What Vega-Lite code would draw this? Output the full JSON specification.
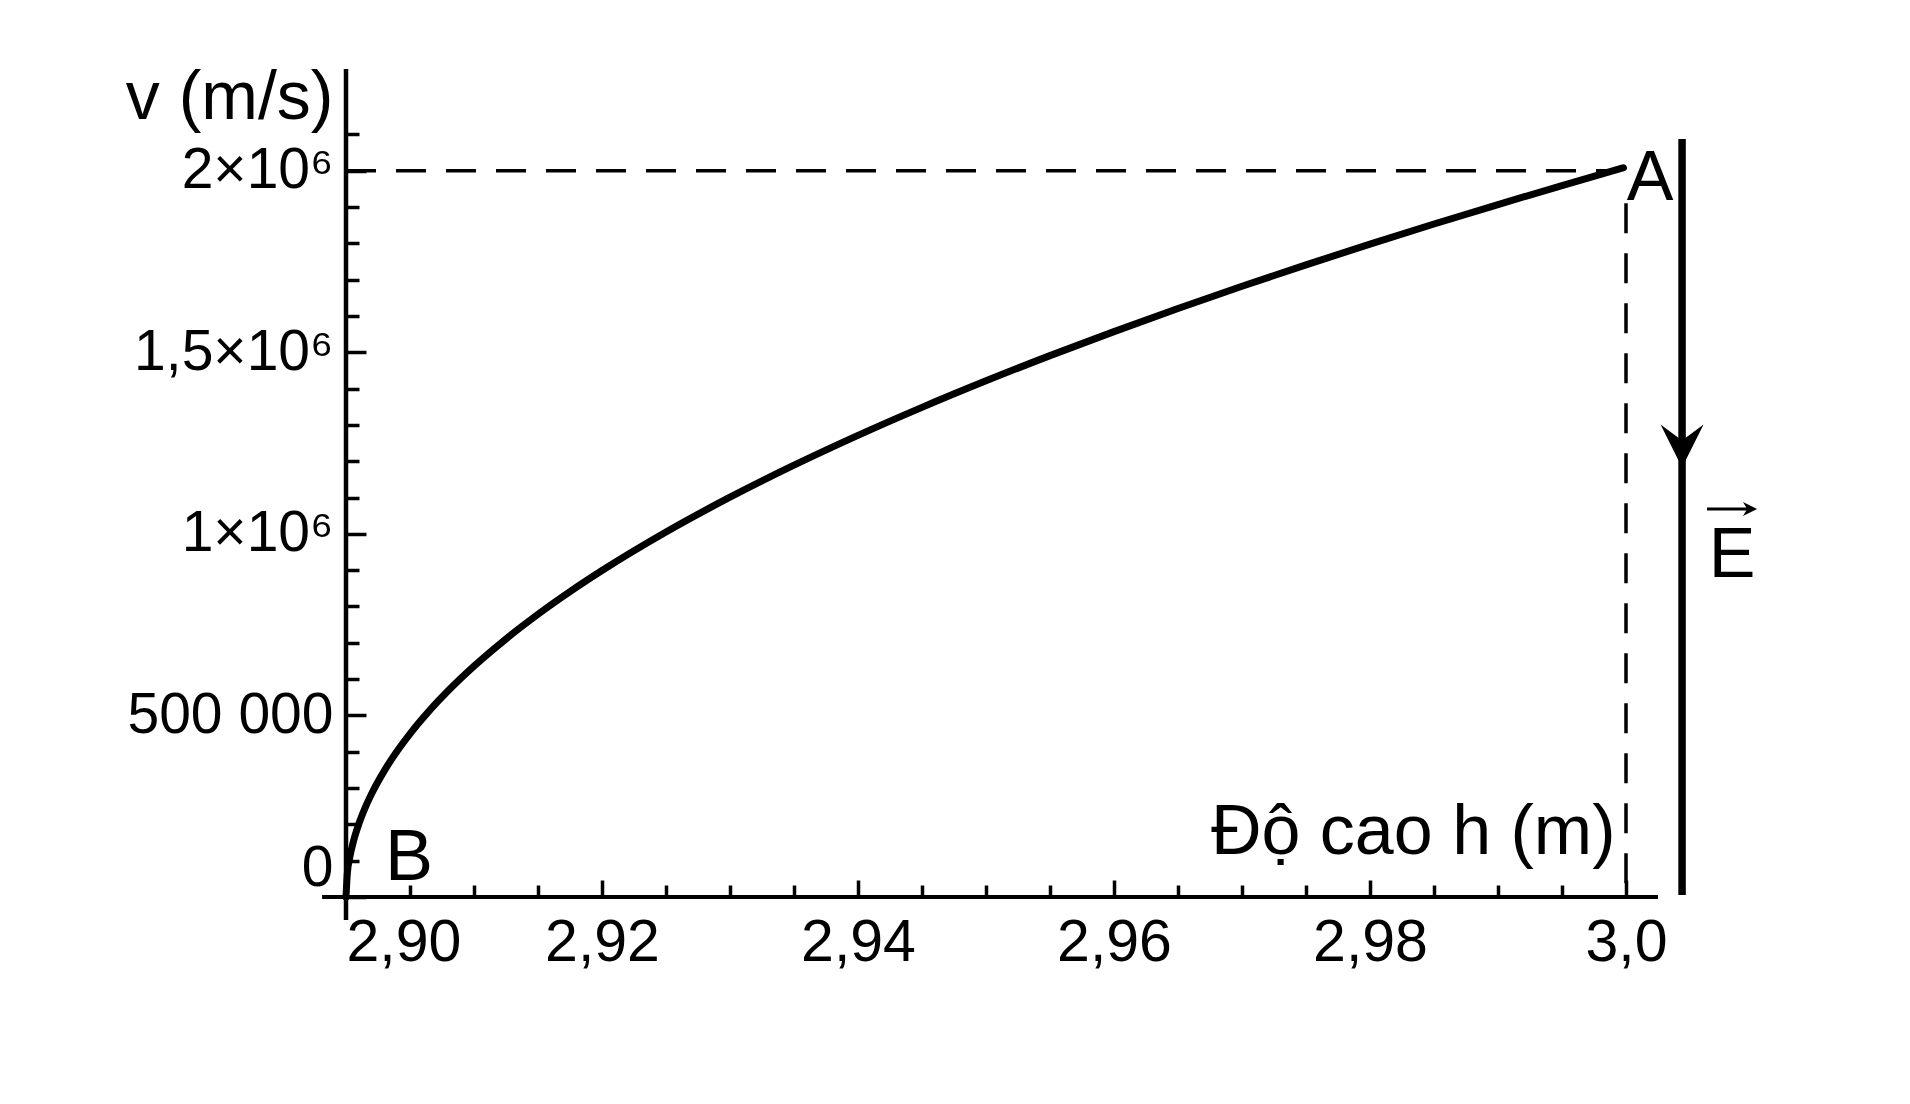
{
  "$schema": "https://vega.github.io/schema/vega-lite/v6.json",
  "autosize": {"type": "none"},
  "padding": {"left": 346, "top": 69, "right": 284, "bottom": 207},
  "width": 1280,
  "height": 828,
  "background": "white",
  "config": {
    "view": {"stroke": null},
    "font": "Liberation Sans",
    "axis": {
      "domain": false,
      "grid": false,
      "labelFont": "Liberation Sans",
      "labelColor": "black",
      "labelLimit": 500,
      "tickColor": "black",
      "tickWidth": 3.5,
      "titleFont": "Liberation Sans",
      "titleFontWeight": "normal",
      "titleColor": "black",
      "labelOverlap": false,
      "labelBound": false
    }
  },
  "encoding": {
    "x": {
      "field": "h",
      "type": "quantitative",
      "scale": {"domain": [2.9, 3.0], "nice": false, "zero": false},
      "axis": {
        "orient": "bottom",
        "values": [2.9, 2.905, 2.91, 2.915, 2.92, 2.925, 2.93, 2.935, 2.94, 2.945, 2.95, 2.955, 2.96, 2.965, 2.97, 2.975, 2.98, 2.985, 2.99, 2.995, 3.0],
        "labelExpr": "abs(datum.value*50 - round(datum.value*50)) < 0.001 ? (datum.value > 2.999 ? '3,0' : replace(format(datum.value, '.2f'), '.', ',')) : ''",
        "tickSize": {"condition": {"test": "abs(datum.value*50 - round(datum.value*50)) < 0.001", "value": -17}, "value": -12},
        "labelAlign": {"condition": {"test": "datum.value < 2.901", "value": "left"}, "value": "center"},
        "labelBaseline": "top",
        "labelFontSize": 59,
        "labelPadding": 33,
        "title": "Độ cao h (m)",
        "titleFontSize": 70,
        "titleAlign": "right",
        "titleBaseline": "alphabetic",
        "titleAnchor": "start",
        "titleX": 1269,
        "titleY": -44
      }
    },
    "y": {
      "field": "v",
      "type": "quantitative",
      "scale": {"domain": [0, 2280000], "nice": false, "zero": false},
      "axis": {
        "orient": "left",
        "values": [0, 100000, 200000, 300000, 400000, 500000, 600000, 700000, 800000, 900000, 1000000, 1100000, 1200000, 1300000, 1400000, 1500000, 1600000, 1700000, 1800000, 1900000, 2000000, 2100000],
        "labelExpr": "datum.value == 0 ? '0' : datum.value == 500000 ? '500 000' : datum.value == 1000000 ? '1×10⁶' : datum.value == 1500000 ? '1,5×10⁶' : datum.value == 2000000 ? '2×10⁶' : ''",
        "tickSize": {"condition": {"test": "datum.value % 500000 == 0", "value": -20}, "value": -13},
        "labelBaseline": {"condition": {"test": "datum.value == 0", "value": "bottom"}, "value": "middle"},
        "labelAlign": "right",
        "labelFontSize": 57,
        "labelPadding": 33,
        "title": "v (m/s)",
        "titleFontSize": 68,
        "titleAngle": 0,
        "titleAlign": "right",
        "titleBaseline": "alphabetic",
        "titleAnchor": "start",
        "titleX": -13,
        "titleY": 49
      }
    }
  },
  "layer": [
    {
      "data": {"values": [
        {"h": 2.89813, "h2": 3.0025, "v": 0}
      ]},
      "mark": {"type": "rule", "color": "black", "strokeWidth": 4},
      "encoding": {"x2": {"field": "h2"}}
    },
    {
      "data": {"values": [
        {"h": 2.9, "v": -63300, "v2": 2280000}
      ]},
      "mark": {"type": "rule", "color": "black", "strokeWidth": 4.5},
      "encoding": {"y2": {"field": "v2"}}
    },
    {
      "data": {"values": [
        {"h": 2.9, "h2": 2.9985, "v": 2000000}
      ]},
      "mark": {"type": "rule", "color": "black", "strokeWidth": 3.5, "strokeDash": [30, 20]},
      "encoding": {"x2": {"field": "h2"}}
    },
    {
      "data": {"values": [
        {"h": 3.0, "v": 1910000, "v2": 0}
      ]},
      "mark": {"type": "rule", "color": "black", "strokeWidth": 3.5, "strokeDash": [30, 20]},
      "encoding": {"y2": {"field": "v2"}}
    },
    {
      "data": {"values": [
        {"h": 2.9, "v": 0},
        {"h": 2.9001, "v": 63600},
        {"h": 2.9003, "v": 110100},
        {"h": 2.9006, "v": 155700},
        {"h": 2.901, "v": 201000},
        {"h": 2.9015, "v": 246200},
        {"h": 2.902, "v": 284300},
        {"h": 2.903, "v": 348100},
        {"h": 2.904, "v": 402000},
        {"h": 2.905, "v": 449400},
        {"h": 2.9065, "v": 512500},
        {"h": 2.908, "v": 568500},
        {"h": 2.91, "v": 635600},
        {"h": 2.9125, "v": 710600},
        {"h": 2.915, "v": 778500},
        {"h": 2.9175, "v": 840800},
        {"h": 2.92, "v": 898900},
        {"h": 2.925, "v": 1005000},
        {"h": 2.93, "v": 1100900},
        {"h": 2.935, "v": 1189100},
        {"h": 2.94, "v": 1271200},
        {"h": 2.945, "v": 1348300},
        {"h": 2.95, "v": 1421300},
        {"h": 2.955, "v": 1490700},
        {"h": 2.96, "v": 1556900},
        {"h": 2.965, "v": 1620500},
        {"h": 2.97, "v": 1681700},
        {"h": 2.975, "v": 1740700},
        {"h": 2.98, "v": 1797800},
        {"h": 2.985, "v": 1853100},
        {"h": 2.99, "v": 1906800},
        {"h": 2.995, "v": 1959100},
        {"h": 2.9998, "v": 2008000}
      ]},
      "mark": {"type": "line", "color": "black", "strokeWidth": 7, "interpolate": "monotone", "strokeCap": "round"}
    },
    {
      "data": {"values": [
        {"h": 3.00438, "v": 5500, "v2": 2087300}
      ]},
      "mark": {"type": "rule", "color": "black", "strokeWidth": 7.5},
      "encoding": {"y2": {"field": "v2"}}
    },
    {
      "data": {"values": [
        {"h": 3.00438, "v": 1241900}
      ]},
      "mark": {"type": "point", "filled": true, "color": "black", "opacity": 1, "size": 1850, "shape": "M-1,-1L0,1L1,-1L0,-0.25Z"}
    },
    {
      "data": {"values": [
        {"h": 3.00633, "h2": 3.00969, "v": 1068400}
      ]},
      "mark": {"type": "rule", "color": "black", "strokeWidth": 3},
      "encoding": {"x2": {"field": "h2"}}
    },
    {
      "data": {"values": [
        {"h": 3.00969, "v": 1068400}
      ]},
      "mark": {"type": "point", "filled": true, "color": "black", "opacity": 1, "size": 200, "shape": "M-1,-1L1,0L-1,1L-0.4,0Z"}
    },
    {
      "data": {"values": [
        {"h": 3.00188, "v": 1919000, "label": "A", "size": 70},
        {"h": 2.90492, "v": 46800, "label": "B", "size": 72},
        {"h": 3.00828, "v": 881000, "label": "E", "size": 70}
      ]},
      "mark": {"type": "text", "color": "black", "align": "center", "baseline": "alphabetic", "font": "Liberation Sans"},
      "encoding": {
        "text": {"field": "label"},
        "size": {"field": "size", "type": "quantitative", "scale": null}
      }
    }
  ]
}
